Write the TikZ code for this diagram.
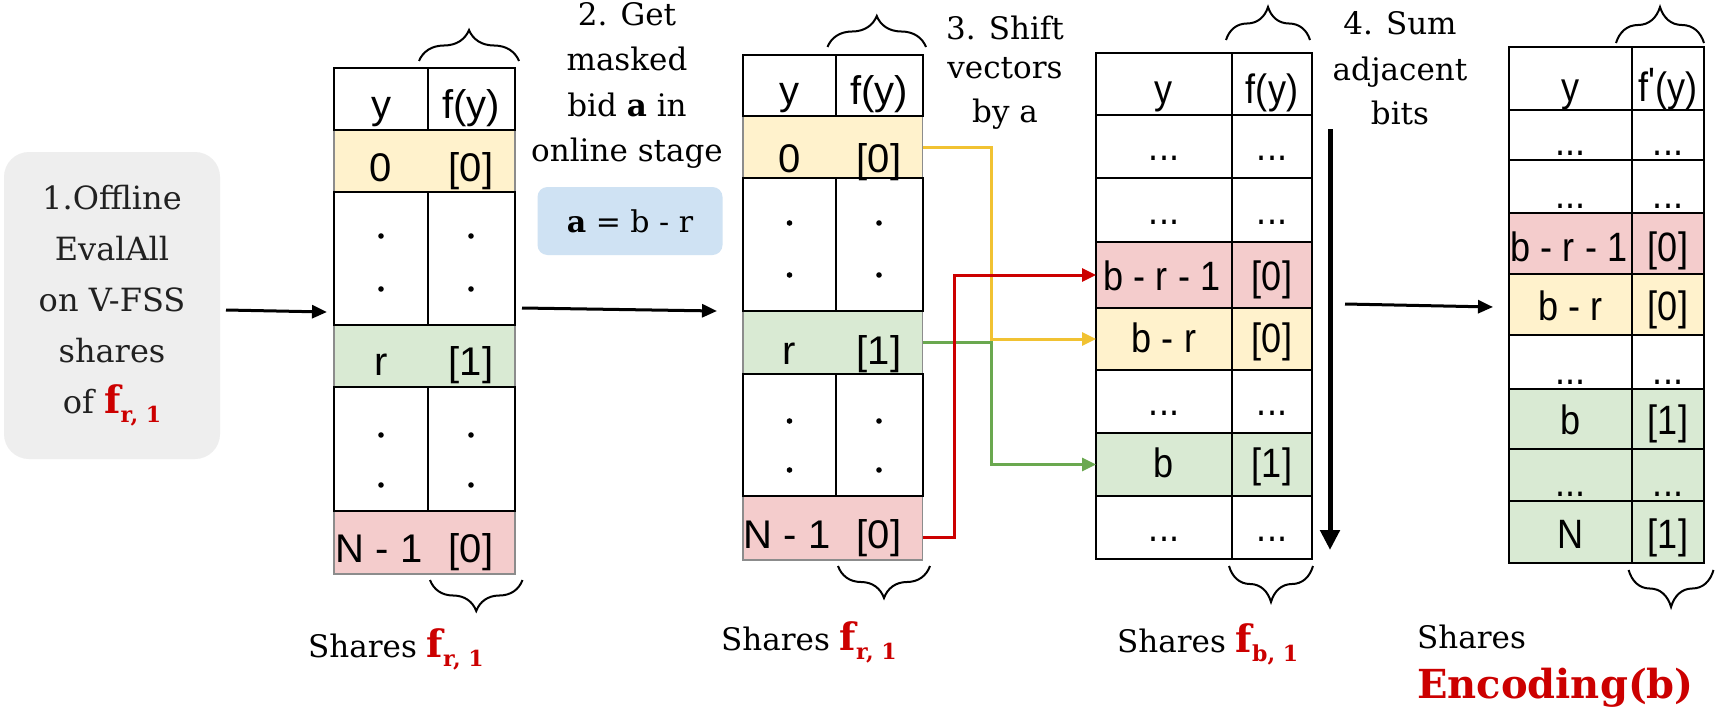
\documentclass[tikz,border=0pt]{standalone}
\usepackage{fontspec}
\setmainfont{DejaVu Serif}
\newfontfamily\tabfont{Liberation Sans}
\newfontfamily\tabnarrow[FakeStretch=0.88]{Liberation Sans}
\usetikzlibrary{arrows.meta,decorations.pathreplacing}

\definecolor{rowyellow}{HTML}{FFF2CC}
\definecolor{rowgreen}{HTML}{D9EAD3}
\definecolor{rowpink}{HTML}{F4CCCC}
\definecolor{boxblue}{HTML}{CFE2F3}
\definecolor{boxgray}{HTML}{EEEEEE}
\definecolor{linkyellow}{HTML}{F1C232}
\definecolor{linkgreen}{HTML}{6AA84F}
\definecolor{linkred}{HTML}{CC0000}
\definecolor{labelred}{HTML}{CC0000}
\definecolor{softline}{HTML}{8C8C8C}

% bold red f with a lowered subscript
\newcommand\redsub[1]{{\color{labelred}\bfseries\fontsize{38}{38}\selectfont f\raisebox{-9pt}{\fontsize{22}{22}\selectfont #1}}}
% table cell: name, x1, y1, x2, y2, style
\newcommand\cellbx[6]{\node[cellbox,#6,minimum width={(#4-#2)*1pt},minimum height={(#5-#3)*1pt}] (#1) at ({(#2+#4)/2},{(#3+#5)/2}) {};}
% table text on a baseline: name, x, baseline y, text, style
\newcommand\celltx[5]{\node[celltext,#5] (#1) at (#2,#3) {#4};}

\tikzset{
  cellbox/.style={rectangle,draw=black,line width=2pt,inner sep=0pt,outer sep=0pt},
  ylw/.style={fill=rowyellow},
  grn/.style={fill=rowgreen},
  pnk/.style={fill=rowpink},
  softrow/.style={draw=softline,line width=1.2pt},
  celltext/.style={anchor=base,inner sep=0pt,font=\tabfont\fontsize{40}{40}\selectfont},
  bigtext/.style={font=\tabnarrow\fontsize{41}{41}\selectfont},
  lbl/.style={inner sep=0pt,font=\fontsize{31}{31}\selectfont},
  link/.style={line width=3pt,-{Triangle[length=14pt,width=13pt]}},
  flow/.style={line width=3pt,black,-{Triangle[length=15pt,width=13pt]}},
  brc/.style={decorate,decoration={brace,amplitude=#1},line width=2pt},
  dotmark/.style={fill=black}
}

\begin{document}
\begin{tikzpicture}[x=1pt,y=-1pt]
\useasboundingbox (0,0) rectangle (1716,712);
\fill[white] (0,0) rectangle (1716,712);

% ---------- step 1: offline evaluation ----------
\node[fill=boxgray,rounded corners=25pt,minimum width=216pt,minimum height=307pt,
      align=center,text=black!87,font=\fontsize{32}{51}\selectfont] (offline) at (112,305.5)
  {1.Offline\\EvalAll\\on V-FSS\\shares\\of \redsub{r, 1}};

% ---------- table 1 ----------
\cellbx{t1r0}{334}{129.5}{515}{192}{ylw,softrow}
\cellbx{t1r1}{334}{324.5}{515}{387}{grn,softrow}
\cellbx{t1r2}{334}{511}{515}{574}{pnk,softrow}
\cellbx{t1hy}{334}{68}{427.5}{129.5}{}
\cellbx{t1hf}{427.5}{68}{515}{129.5}{}
\cellbx{t1d1a}{334}{192}{427.5}{324.5}{}
\cellbx{t1d1b}{427.5}{192}{515}{324.5}{}
\cellbx{t1d2a}{334}{387}{427.5}{511}{}
\cellbx{t1d2b}{427.5}{387}{515}{511}{}
\celltx{t1hyt}{381}{118.5}{y}{}
\celltx{t1hft}{471}{118.5}{f(y)}{}
\celltx{t1r0a}{381}{181}{0}{}
\celltx{t1r0b}{471}{181}{[0]}{}
\celltx{t1r1a}{381}{375}{r}{}
\celltx{t1r1b}{471}{375}{[1]}{}
\celltx{t1r2a}{379}{562}{N - 1}{}
\celltx{t1r2b}{471}{562}{[0]}{}
\foreach \yy in {236,289,435,485}{
  \fill[dotmark] (381,\yy) circle (2.8);
  \fill[dotmark] (471,\yy) circle (2.8);
}
\draw[brc=31pt] (419,61) -- (519,61);
\draw[brc=31pt] (522.5,580) -- (430,580);
\node[lbl,anchor=base west] (sh1) at (308,657) {Shares \redsub{r, 1}};

% ---------- step 2: masked bid ----------
\node[lbl,anchor=base] (lab2a) at (627,25) {2. Get};
\node[lbl,anchor=base] (lab2b) at (627,70) {masked};
\node[lbl,anchor=base] (lab2c) at (627,116) {bid \textbf{a} in};
\node[lbl,anchor=base] (lab2d) at (627,161) {online stage};
\node[fill=boxblue,rounded corners=10pt,minimum width=185pt,minimum height=68pt,
      font=\fontsize{30}{30}\selectfont] (mask) at (630,221) {\textbf{a} = b - r};

% ---------- table 2 ----------
\cellbx{t2r0}{743}{116}{922.5}{178}{ylw,softrow}
\cellbx{t2r1}{743}{311}{922.5}{374}{grn,softrow}
\cellbx{t2r2}{743}{496}{922.5}{560}{pnk,softrow}
\cellbx{t2hy}{743}{54.5}{836}{116}{}
\cellbx{t2hf}{836}{54.5}{922.5}{116}{}
\cellbx{t2d1a}{743}{178}{836}{311}{}
\cellbx{t2d1b}{836}{178}{922.5}{311}{}
\cellbx{t2d2a}{743}{374}{836}{496}{}
\cellbx{t2d2b}{836}{374}{922.5}{496}{}
\celltx{t2hyt}{789.5}{104}{y}{}
\celltx{t2hft}{879}{104}{f(y)}{}
\celltx{t2r0a}{789.5}{172}{0}{}
\celltx{t2r0b}{879}{172}{[0]}{}
\celltx{t2r1a}{789.5}{364}{r}{}
\celltx{t2r1b}{879}{364}{[1]}{}
\celltx{t2r2a}{787}{548}{N - 1}{}
\celltx{t2r2b}{879}{548}{[0]}{}
\foreach \yy in {223,275,421,470}{
  \fill[dotmark] (789.5,\yy) circle (2.8);
  \fill[dotmark] (879,\yy) circle (2.8);
}
\draw[brc=31pt] (827.5,47) -- (926,47);
\draw[brc=32pt] (930,566) -- (838,566);
\node[lbl,anchor=base west] (sh2) at (721,650) {Shares \redsub{r, 1}};

% ---------- step 3: shift ----------
\node[lbl,anchor=base] (lab3a) at (1005,39) {3. Shift};
\node[lbl,anchor=base] (lab3b) at (1005,78) {vectors};
\node[lbl,anchor=base] (lab3c) at (1005,122) {by a};

% ---------- table 3 ----------
\cellbx{t3hy}{1096}{53}{1232}{114.5}{}
\cellbx{t3hf}{1232}{53}{1312}{114.5}{}
\cellbx{t3r1a}{1096}{114.5}{1232}{178}{}
\cellbx{t3r1b}{1232}{114.5}{1312}{178}{}
\cellbx{t3r2a}{1096}{178}{1232}{242}{}
\cellbx{t3r2b}{1232}{178}{1312}{242}{}
\cellbx{t3r3a}{1096}{242}{1232}{308}{pnk}
\cellbx{t3r3b}{1232}{242}{1312}{308}{pnk}
\cellbx{t3r4a}{1096}{308}{1232}{370}{ylw}
\cellbx{t3r4b}{1232}{308}{1312}{370}{ylw}
\cellbx{t3r5a}{1096}{370}{1232}{433}{}
\cellbx{t3r5b}{1232}{370}{1312}{433}{}
\cellbx{t3r6a}{1096}{433}{1232}{496}{grn}
\cellbx{t3r6b}{1232}{433}{1312}{496}{grn}
\cellbx{t3r7a}{1096}{496}{1232}{559}{}
\cellbx{t3r7b}{1232}{496}{1312}{559}{}
\celltx{t3hyt}{1164}{103}{y}{bigtext}
\celltx{t3hft}{1272}{103}{f(y)}{bigtext}
\celltx{t3r1at}{1164}{160}{...}{bigtext}
\celltx{t3r1bt}{1272}{160}{...}{bigtext}
\celltx{t3r2at}{1164}{224}{...}{bigtext}
\celltx{t3r2bt}{1272}{224}{...}{bigtext}
\celltx{t3r3at}{1162}{290.5}{b - r - 1}{bigtext}
\celltx{t3r3bt}{1272}{290.5}{[0]}{bigtext}
\celltx{t3r4at}{1164}{352}{b - r}{bigtext}
\celltx{t3r4bt}{1272}{352}{[0]}{bigtext}
\celltx{t3r5at}{1164}{415}{...}{bigtext}
\celltx{t3r5bt}{1272}{415}{...}{bigtext}
\celltx{t3r6at}{1164}{477}{b}{bigtext}
\celltx{t3r6bt}{1272}{477}{[1]}{bigtext}
\celltx{t3r7at}{1164}{541}{...}{bigtext}
\celltx{t3r7bt}{1272}{541}{...}{bigtext}
\draw[brc=33pt] (1226,40) -- (1310,40);
\draw[brc=36pt] (1313,566) -- (1229,566);
\node[lbl,anchor=base west] (sh3) at (1117,652) {Shares \redsub{b, 1}};

% shifted entries
\draw[link,linkyellow] (t2r0.east) -- ++(68.5,0) |- (t3r4a.west);
\draw[link,linkgreen] (t2r1.east) -- ++(68.5,0) |- (t3r6a.west);
\draw[link,linkred] ([yshift=-9pt]t2r2.east) -- ++(32,0) |- (t3r3a.west);

% ---------- step 4: sum adjacent bits ----------
\node[lbl,anchor=base] (lab4a) at (1400,34) {4. Sum};
\node[lbl,anchor=base] (lab4b) at (1400,80) {adjacent};
\node[lbl,anchor=base] (lab4c) at (1400,124) {bits};
\coordinate (sweeptop) at (1330,129);
\coordinate (sweepend) at (1330,550);
\draw[line width=5pt,-{Triangle[length=20pt,width=19pt]}] (sweeptop) -- (sweepend);

% ---------- table 4 ----------
\cellbx{t4hy}{1509}{47}{1632}{110}{}
\cellbx{t4hf}{1632}{47}{1704}{110}{}
\cellbx{t4r1a}{1509}{110}{1632}{160}{}
\cellbx{t4r1b}{1632}{110}{1704}{160}{}
\cellbx{t4r2a}{1509}{160}{1632}{213}{}
\cellbx{t4r2b}{1632}{160}{1704}{213}{}
\cellbx{t4r3a}{1509}{213}{1632}{274}{pnk}
\cellbx{t4r3b}{1632}{213}{1704}{274}{pnk}
\cellbx{t4r4a}{1509}{274}{1632}{335}{ylw}
\cellbx{t4r4b}{1632}{274}{1704}{335}{ylw}
\cellbx{t4r5a}{1509}{335}{1632}{389}{}
\cellbx{t4r5b}{1632}{335}{1704}{389}{}
\cellbx{t4r6a}{1509}{389}{1632}{449}{grn}
\cellbx{t4r6b}{1632}{389}{1704}{449}{grn}
\cellbx{t4r7a}{1509}{449}{1632}{501}{grn}
\cellbx{t4r7b}{1632}{449}{1704}{501}{grn}
\cellbx{t4r8a}{1509}{501}{1632}{563}{grn}
\cellbx{t4r8b}{1632}{501}{1704}{563}{grn}
\celltx{t4hyt}{1570.5}{101}{y}{bigtext}
\celltx{t4hft}{1668}{101}{f\raisebox{0.12em}{\textquotesingle}(y)}{bigtext}
\celltx{t4r1at}{1570.5}{155}{...}{bigtext}
\celltx{t4r1bt}{1668}{155}{...}{bigtext}
\celltx{t4r2at}{1570.5}{208}{...}{bigtext}
\celltx{t4r2bt}{1668}{208}{...}{bigtext}
\celltx{t4r3at}{1569}{261}{b - r - 1}{bigtext}
\celltx{t4r3bt}{1668}{261}{[0]}{bigtext}
\celltx{t4r4at}{1570.5}{320}{b - r}{bigtext}
\celltx{t4r4bt}{1668}{320}{[0]}{bigtext}
\celltx{t4r5at}{1570.5}{384}{...}{bigtext}
\celltx{t4r5bt}{1668}{384}{...}{bigtext}
\celltx{t4r6at}{1570.5}{434}{b}{bigtext}
\celltx{t4r6bt}{1668}{434}{[1]}{bigtext}
\celltx{t4r7at}{1570.5}{496}{...}{bigtext}
\celltx{t4r7bt}{1668}{496}{...}{bigtext}
\celltx{t4r8at}{1570.5}{548}{N}{bigtext}
\celltx{t4r8bt}{1668}{548}{[1]}{bigtext}
\draw[brc=36pt] (1616,43) -- (1704,43);
\draw[brc=37pt] (1713.5,570) -- (1628.6,570);
\node[lbl,anchor=base west] (sh4) at (1417,648) {Shares};
\node[lbl,anchor=base west,text=labelred,font=\bfseries\fontsize{40}{40}\selectfont] (enc) at (1417,698) {Encoding(b)};

% ---------- stage arrows ----------
\coordinate (a1s) at (226,310);
\coordinate (a1e) at (327,312);
\coordinate (a2s) at (522,308);
\coordinate (a2e) at (717,311);
\coordinate (a3s) at (1345,304);
\coordinate (a3e) at (1493,307);
\draw[flow] (a1s) -- (a1e);
\draw[flow] (a2s) -- (a2e);
\draw[flow] (a3s) -- (a3e);
\end{tikzpicture}
\end{document}
